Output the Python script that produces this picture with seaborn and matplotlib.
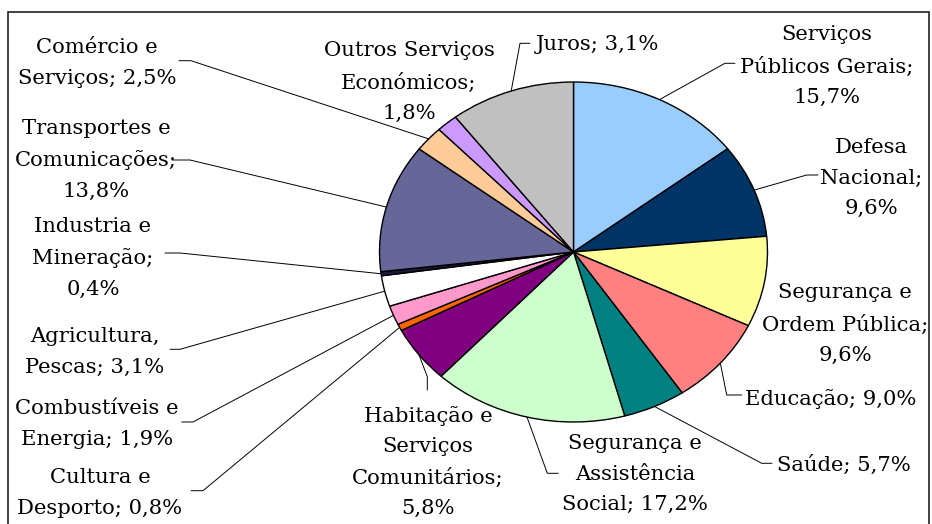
import matplotlib
matplotlib.use("Agg")
import matplotlib.pyplot as plt
import matplotlib.patches as mpatches
import seaborn as sns
import numpy as np

# ---------------------------------------------------------
# Data (slice sizes, labels as printed)
# ---------------------------------------------------------
categories = [
    "Serviços\nPúblicos Gerais;\n15,7%",
    "Defesa\nNacional;\n9,6%",
    "Segurança e\nOrdem Pública;\n9,6%",
    "Educação; 9,0%",
    "Saúde; 5,7%",
    "Segurança e\nAssistência\nSocial; 17,2%",
    "Habitação e\nServiços\nComunitários;\n5,8%",
    "Cultura e\nDesporto; 0,8%",
    "Combustíveis e\nEnergia; 1,9%",
    "Agricultura,\nPescas; 3,1%",
    "Industria e\nMineração;\n0,4%",
    "Transportes e\nComunicações;\n13,8%",
    "Comércio e\nServiços; 2,5%",
    "Outros Serviços\nEconómicos;\n1,8%",
    "Juros; 3,1%",
]
shares = [14.6, 8.9, 8.6, 8.4, 5.2, 16.2, 5.4, 0.64, 1.83, 2.92, 0.39,
          12.2, 2.44, 1.78, 10.4]
colors = ["#99CCFF", "#003366", "#FFFF99", "#FF8080", "#008080", "#CCFFCC",
          "#800080", "#FF6600", "#FF99CC", "#FFFFFF", "#1A1A3A", "#666699",
          "#FFCC99", "#CC99FF", "#C0C0C0"]

# ---------------------------------------------------------
# Layout (pixel positions in the 932x524 image)
# ---------------------------------------------------------
W, H = 932, 524
cx, cy, rx, ry = 573.5, 252, 194, 170

# label block centre, then leader elbow and end (None = no leader)
label_pos = [(827, 66), (871, 178), (845, 324), (831, 399), (844, 465),
             (635, 474), (428, 462), (100, 493), (97, 424), (95, 352),
             (93, 258), (96, 160), (97, 63), (409, 82), (597, 45)]
leaders = [((725, 63.3), (735, 63.3)), ((806.7, 175), (818, 175)), None,
           ((726.7, 395), (741.7, 395)), ((761.7, 463.3), (772, 463.3)),
           ((547.3, 473.3), (558.3, 473.3)), ((427.3, 376.7), (427.3, 390)),
           ((203, 490.7), (191, 490.7)), ((193, 422), (181.7, 422)),
           ((180, 349.3), (170, 349.3)), ((180, 253), (165, 253)),
           ((190, 160), (172, 160)), ((191, 60.7), (179, 60.7)), None,
           ((520, 43.3), (530, 43.3))]


def px(x, y):
    return (x - cx) / rx, (cy - y) / ry


sns.set_theme(style="white")
plt.rcParams["font.family"] = ["DejaVu Serif"]

fig = plt.figure(figsize=(W / 100, H / 100), dpi=100)
ax = fig.add_axes([0, 0, 1, 1])

wedges, _ = ax.pie(shares, colors=colors, startangle=90, counterclock=False,
                   wedgeprops=dict(edgecolor="black", linewidth=1.0))
ax.set_aspect("auto")
ax.set_xlim(-cx / rx, (W - cx) / rx)
ax.set_ylim((cy - H) / ry, cy / ry)
ax.axis("off")

for w, text, pos, lead in zip(wedges, categories, label_pos, leaders):
    if lead is not None:
        theta = np.deg2rad((w.theta1 + w.theta2) / 2)
        xs = [np.cos(theta), px(*lead[0])[0], px(*lead[1])[0]]
        ys = [np.sin(theta), px(*lead[0])[1], px(*lead[1])[1]]
        ax.plot(xs, ys, color="black", linewidth=0.7)
    tx, ty = px(*pos)
    ax.text(tx, ty, text, ha="center", va="center", fontsize=15.2,
            linespacing=1.75, color="black")

# outer frame
x0, y0 = px(8, 12)
x1, y1 = px(929, 530)
ax.add_patch(mpatches.Rectangle((x0, y1), x1 - x0, y0 - y1, fill=False,
                                edgecolor="#222222", linewidth=1.2,
                                clip_on=False))

fig.savefig("out.png", dpi=100)
